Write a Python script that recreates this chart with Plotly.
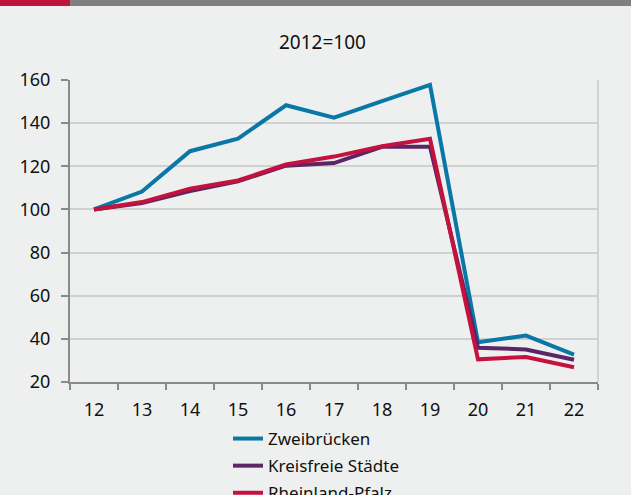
import plotly.graph_objects as go

years = ["12", "13", "14", "15", "16", "17", "18", "19", "20", "21", "22"]
zweibruecken = [100, 108.3, 127, 132.8, 148.3, 142.5, 150.2, 157.7, 38.4, 41.5, 32.7]
kreisfreie = [100, 103, 108.5, 113, 120.3, 121.5, 129, 129, 35.9, 35.1, 30.3]
rheinland = [100, 103.4, 109.6, 113.4, 120.8, 124.5, 129.3, 132.8, 30.5, 31.6, 26.8]

names = ["Zweibrücken", "Kreisfreie Städte", "Rheinland-Pfalz"]
colors = ["#0a78a6", "#5b2566", "#c4123f"]
series = [zweibruecken, kreisfreie, rheinland]

W, H = 631, 495
L, R, T, B = 70, 33, 80, 113
pw, ph = W - L - R, H - T - B

BG = "#eef0ef"
FONT = "Noto Sans"

fig = go.Figure()
for n, c, s in zip(names, colors, series):
    fig.add_trace(go.Scatter(x=years, y=s, name=n, mode="lines",
                             line=dict(color=c, width=4), legendgroup=n))

def px_x(p):
    return (p - L) / pw

def px_y(p):
    return 1 - (p - T) / ph

shapes = [
    dict(type="rect", xref="paper", yref="paper", x0=px_x(0), x1=px_x(70),
         y0=px_y(6), y1=px_y(0), fillcolor="#c0113f", line=dict(width=0), layer="above"),
    dict(type="rect", xref="paper", yref="paper", x0=px_x(70), x1=px_x(W),
         y0=px_y(6), y1=px_y(0), fillcolor="#808080", line=dict(width=0), layer="above"),
    dict(type="line", xref="paper", yref="paper", x0=1, x1=1, y0=0, y1=1,
         line=dict(color="#c8c8c8", width=1.5), layer="below"),
]

fig.update_layout(
    width=W, height=H,
    margin=dict(l=L, r=R, t=T, b=B, autoexpand=False),
    paper_bgcolor=BG, plot_bgcolor=BG,
    font=dict(family=FONT, size=18, color="#111111"),
    showlegend=True,
    legend=dict(orientation="v", x=px_x(228), xanchor="left", y=px_y(421), yanchor="top",
                bgcolor="rgba(0,0,0,0)", font=dict(size=17), tracegroupgap=2,
                traceorder="grouped"),
    shapes=shapes,
    annotations=[dict(text="2012=100", xref="paper", yref="paper", x=px_x(322), y=px_y(42),
                      xanchor="center", yanchor="middle", showarrow=False,
                      font=dict(size=19, family=FONT, color="#111111"))],
    xaxis=dict(type="category", range=[-0.5, 10.5], showgrid=False, showline=True,
               linecolor="#8a8a8a", linewidth=2,
               ticks="outside", tickson="boundaries", ticklen=6, tickcolor="#8a8a8a", tickwidth=1.5,
               tickfont=dict(size=18), zeroline=False, ticklabelstandoff=10),
    yaxis=dict(range=[20, 160], tickvals=[20, 40, 60, 80, 100, 120, 140, 160],
               showgrid=True, gridcolor="#cfd1d0", gridwidth=1.5,
               showline=True, linecolor="#8a8a8a", linewidth=2,
               ticks="outside", ticklen=7, tickcolor="#8a8a8a", tickwidth=1.5,
               tickfont=dict(size=18), zeroline=False, ticklabelstandoff=7),
)

fig.write_html("out.html", config={"displayModeBar": False},
               post_script="document.body.style.margin='0';")
